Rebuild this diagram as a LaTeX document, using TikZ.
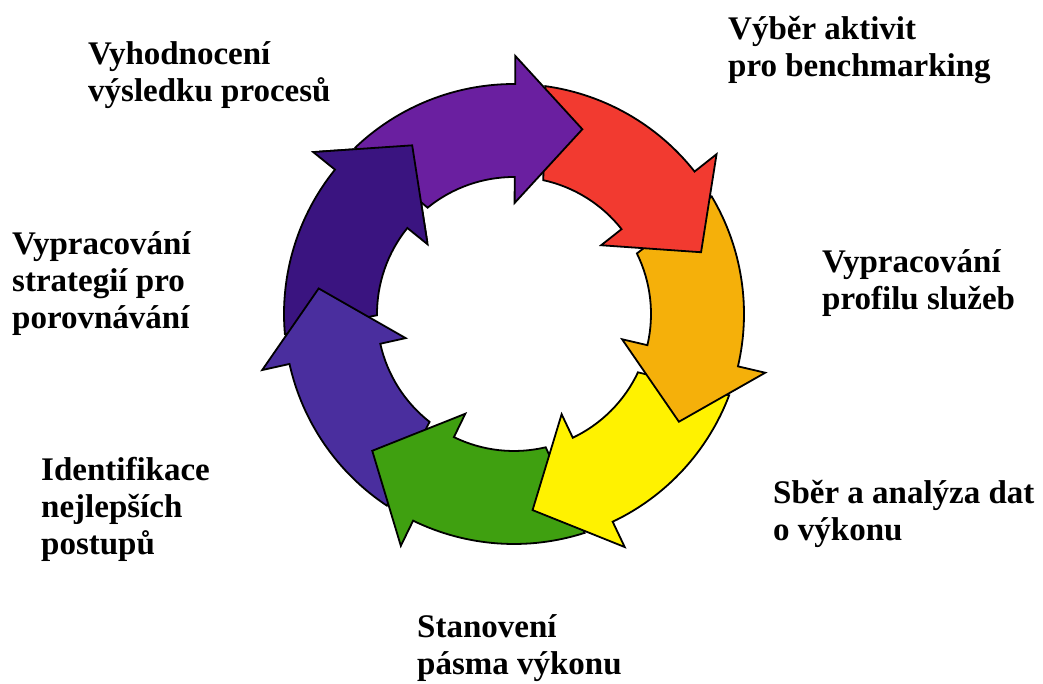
\documentclass[tikz,border=0pt]{standalone}
\usepackage{fontspec}
\setmainfont{Liberation Serif}
\usepackage{xcolor}
\definecolor{cPurple}{HTML}{6A1FA0}
\definecolor{cRed}{HTML}{F23A30}
\definecolor{cOrange}{HTML}{F5B00A}
\definecolor{cYellow}{HTML}{FFF200}
\definecolor{cGreen}{HTML}{3FA010}
\definecolor{cBlue}{HTML}{4A2E9E}
\definecolor{cIndigo}{HTML}{3A1480}
\usepackage{tikz}
\usetikzlibrary{positioning}
\tikzset{
  seg-arrow/.style={draw=black,line width=1.8pt,line join=miter},
  % base = uctarij posledniho radku
  node-label/.style={inner sep=0pt,anchor=base west,align=left,
    font=\fontsize{33}{37}\selectfont\bfseries},
}

\begin{document}
\begin{tikzpicture}[x=1pt,y=1pt]
  \useasboundingbox (0,0) rectangle (1043,684);
  % cyklus: 7 segmentu, kazdy s hlavou 20 stupnu
  \begin{scope}[shift={(514,370)}]
    \foreach \b/\c in {141.12/cIndigo,-167.45/cBlue,-116.02/cGreen,
        -64.59/cYellow,-13.16/cOrange,38.27/cRed,89.7/cPurple}{
      \draw[seg-arrow,fill=\c] (\b+43.9:230)
        arc[start angle=\b+43.9,end angle=\b,radius=230]
        -- (\b:258) -- (\b-20:197) -- (\b:111) -- (\b:137)
        arc[start angle=\b,end angle=\b+39.4,radius=137] -- cycle;
    }
    % hlava posledniho segmentu lezi nad zacatkem prvniho
    \begin{scope}
      \clip (0,0) -- (140:320) arc[start angle=140,end angle=100,radius=320] -- cycle;
      \draw[seg-arrow,fill=cIndigo] (141.12+43.9:230)
        arc[start angle=141.12+43.9,end angle=141.12,radius=230]
        -- (141.12:258) -- (121.12:197) -- (141.12:111) -- (141.12:137)
        arc[start angle=141.12,end angle=141.12+39.4,radius=137] -- cycle;
    \end{scope}
  \end{scope}

  \node[node-label] (eval)    at (88,582)  {Vyhodnocení\\výsledku procesů};
  \node[node-label] (select)  at (728,607) {Výběr aktivit\\pro benchmarking};
  \node[node-label] (strat)   at (12,355)  {Vypracování\\strategií pro\\porovnávání};
  \node[node-label] (profile) at (822,374) {Vypracování\\profilu služeb};
  \node[node-label] (best)    at (41,129)  {Identifikace\\nejlepších\\postupů};
  \node[node-label] (data)    at (773,143) {Sběr a analýza dat\\o výkonu};
  \node[node-label] (band)    at (417,9)   {Stanovení\\pásma výkonu};
\end{tikzpicture}
\end{document}
